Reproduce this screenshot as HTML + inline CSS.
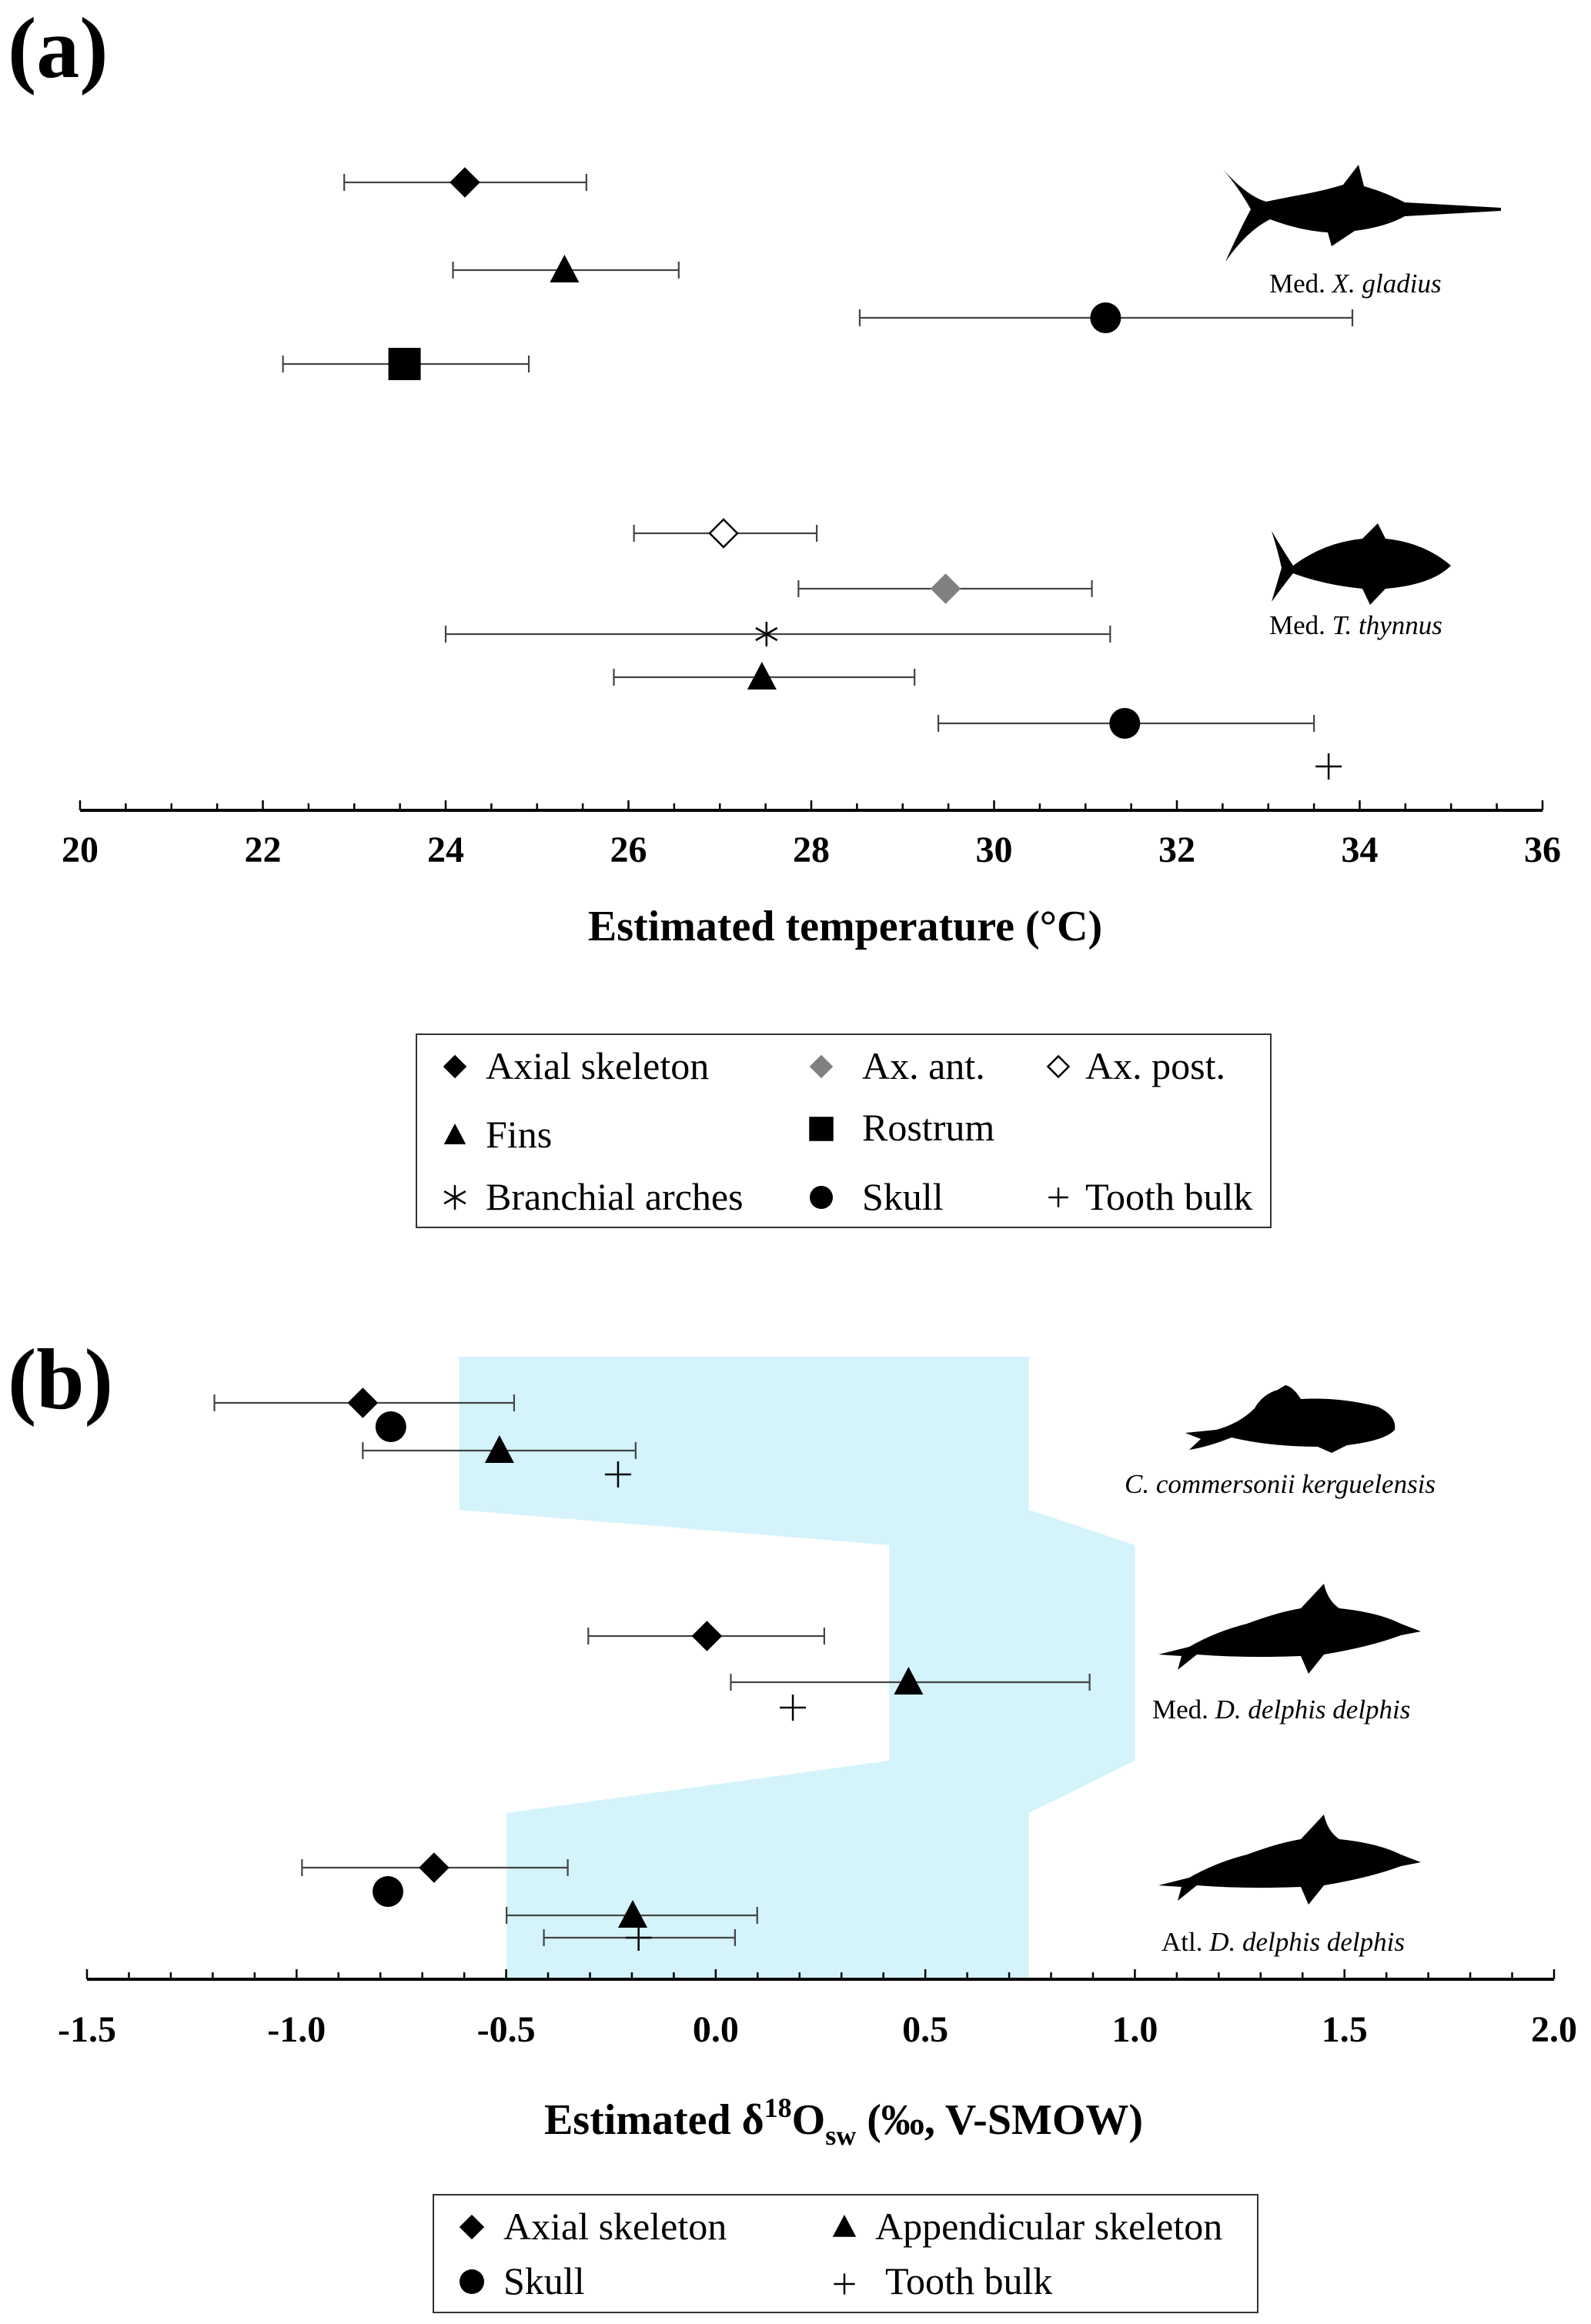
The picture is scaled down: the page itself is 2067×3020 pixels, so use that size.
<!DOCTYPE html>
<html><head><meta charset="utf-8"><style>
html,body{margin:0;padding:0;background:#fff}
svg{display:block}
text{font-family:"Liberation Serif",serif;fill:#000}
.tick{font-family:"Liberation Serif",serif;font-weight:bold;font-size:48px}
.title{font-family:"Liberation Serif",serif;font-weight:bold;font-size:56px}
.leg{font-family:"Liberation Serif",serif;font-size:50px}
.sp{font-family:"Liberation Serif",serif;font-size:35px}
</style></head><body>
<svg id="chart" width="2067" height="3020" viewBox="0 0 2067 3020" xmlns="http://www.w3.org/2000/svg">
<text x="10" y="100" style="font-family:'Liberation Serif',serif;font-weight:bold;font-size:112px">(a)</text>
<text x="10" y="1830" style="font-family:'Liberation Serif',serif;font-weight:bold;font-size:112px">(b)</text>
<g id="bgA"></g><g id="bgB"></g>
<g id="axA"></g><g id="axB"></g>
<g id="marksA"></g><g id="marksB"></g>
<text x="1098" y="1222" text-anchor="middle" class="title">Estimated temperature (°C)</text>
<text x="1096" y="2773" text-anchor="middle" class="title">Estimated δ<tspan dy="-22" font-size="36">18</tspan><tspan dy="22">O</tspan><tspan dy="14" font-size="36">sw</tspan><tspan dy="-14"> (‰, V-SMOW)</tspan></text>
<path d="M1589,220 Q1620,255 1645,262 L1680,255 Q1720,248 1745,240 L1765,214 L1772,242 Q1800,250 1825,263 L1950,270 L1950,274 L1825,281 Q1800,295 1760,300 L1730,320 L1725,302 Q1690,300 1650,285 Q1620,300 1592,340 Q1610,300 1625,272 Q1610,245 1589,220 Z"/>
<path d="M1652,690 Q1670,720 1680,735 Q1720,705 1770,700 L1790,680 L1800,700 Q1850,705 1885,735 Q1860,760 1800,765 L1780,786 L1770,765 Q1720,760 1680,745 Q1668,760 1652,782 Q1660,755 1665,738 Q1660,715 1652,690 Z"/>
<path d="M1540,1862 L1580,1858 Q1610,1850 1630,1830 Q1640,1812 1660,1806 L1670,1800 Q1680,1802 1690,1818 Q1740,1815 1790,1828 Q1815,1840 1812,1858 Q1800,1872 1750,1878 L1730,1888 L1712,1880 Q1650,1880 1600,1868 Q1570,1880 1545,1884 L1560,1870 Z"/>
<path d="M1505,2150 L1545,2140 Q1580,2120 1620,2110 Q1660,2095 1690,2090 L1720,2058 Q1725,2080 1740,2090 Q1790,2095 1820,2110 L1846,2120 L1820,2125 Q1780,2140 1720,2150 L1700,2175 L1690,2152 Q1620,2155 1555,2150 L1530,2170 L1535,2152 Z"/>
<path transform="translate(0,300)" d="M1505,2150 L1545,2140 Q1580,2120 1620,2110 Q1660,2095 1690,2090 L1720,2058 Q1725,2080 1740,2090 Q1790,2095 1820,2110 L1846,2120 L1820,2125 Q1780,2140 1720,2150 L1700,2175 L1690,2152 Q1620,2155 1555,2150 L1530,2170 L1535,2152 Z"/>
<text class="sp" x="1649" y="380">Med. <tspan font-style="italic">X. gladius</tspan></text>
<text class="sp" x="1649" y="824">Med. <tspan font-style="italic">T. thynnus</tspan></text>
<text class="sp" x="1461" y="1940" font-style="italic">C. commersonii kerguelensis</text>
<text class="sp" x="1497" y="2233">Med. <tspan font-style="italic">D. delphis delphis</tspan></text>
<text class="sp" x="1509" y="2535">Atl. <tspan font-style="italic">D. delphis delphis</tspan></text>
<g>
<rect x="541" y="1344" width="1110" height="251" fill="none" stroke="#333" stroke-width="2"/>
<g id="legA"></g>
<text class="leg" x="631" y="1402">Axial skeleton</text>
<text class="leg" x="1120" y="1402">Ax. ant.</text>
<text class="leg" x="1410" y="1402">Ax. post.</text>
<text class="leg" x="631" y="1491">Fins</text>
<text class="leg" x="1120" y="1482">Rostrum</text>
<text class="leg" x="631" y="1572">Branchial arches</text>
<text class="leg" x="1120" y="1572">Skull</text>
<text class="leg" x="1410" y="1572">Tooth bulk</text>
</g>
<g>
<rect x="563" y="2852" width="1071" height="153" fill="none" stroke="#333" stroke-width="2"/>
<g id="legB"></g>
<text class="leg" x="654" y="2910">Axial skeleton</text>
<text class="leg" x="1137" y="2910">Appendicular skeleton</text>
<text class="leg" x="654" y="2981">Skull</text>
<text class="leg" x="1150" y="2981">Tooth bulk</text>
</g>
</svg>
<script>
// Panel (a) data: estimated temperature (°C)
const aCategories = ["Xg axial","Xg fins","Xg skull","Xg rostrum","Tt ax post","Tt ax ant","Tt branchial","Tt fins","Tt skull","Tt tooth"];
const aMarkers = ["diamond","triangle","circle","square","odiamond","gdiamond","star","triangle","circle","plus"];
const aValues = [24.21,25.30,31.22,23.55,27.04,29.47,27.51,27.46,31.43,33.66];
const aLow =    [22.89,24.08,28.53,22.22,26.06,27.86,24.00,25.84,29.39,null];
const aHigh =   [25.54,26.55,33.92,24.91,28.06,31.07,31.27,29.13,33.50,null];
const aTicks = [20,22,24,26,28,30,32,34,36];
// Panel (b) data: estimated d18O sw
const bCategories = ["Cc axial","Cc skull","Cc appendicular","Cc tooth","Med axial","Med appendicular","Med tooth","Atl axial","Atl skull","Atl appendicular","Atl tooth"];
const bMarkers = ["diamond","circle","triangle","plus","diamond","triangle","plus","diamond","circle","triangle","plus"];
const bValues = [-0.842,-0.775,-0.516,-0.233,-0.021,0.460,0.184,-0.672,-0.782,-0.198,-0.184];
const bLow =    [-1.196,null,-0.842,null,-0.304,0.036,null,-0.987,null,-0.499,-0.410];
const bHigh =   [-0.481,null,-0.191,null,0.259,0.892,null,-0.353,null,0.099,0.046];
const bTicks = [-1.5,-1.0,-0.5,0.0,0.5,1.0,1.5,2.0];
const bandLeft = [-0.612,-0.612,0.414,0.414,-0.499,-0.499];
const bandRight = [0.747,0.747,1.0,1.0,0.747,0.747];

// layout
const aRowY = [237,351,413,473,693,765,824,880,940,996];
const bRowY = [1823,1854,1885,1916,2126,2186,2219,2427,2458,2489,2518];
const bandY = [1763,1962,2008,2288,2356,2572];

const NS = "http://www.w3.org/2000/svg";
const xA = v => 104 + (v - 20) * (1900 / 16);
const xB = v => 113 + (v + 1.5) * (1906 / 3.5);

function el(tag, attrs, parent) {
  const e = document.createElementNS(NS, tag);
  for (const k in attrs) e.setAttribute(k, attrs[k]);
  parent.appendChild(e);
  return e;
}
function marker(type, x, y, parent, s) {
  s = s || 1;
  let m;
  if (type === "diamond" || type === "gdiamond" || type === "odiamond") {
    const r = 18 * s;
    m = el("polygon", {points: `${x},${y-r} ${x+r},${y} ${x},${y+r} ${x-r},${y}`,
      fill: type === "diamond" ? "#000" : type === "gdiamond" ? "#808080" : "#fff",
      stroke: type === "gdiamond" ? "#808080" : "#000", "stroke-width": 2.5}, parent);
  } else if (type === "circle") {
    m = el("circle", {cx: x, cy: y, r: 20 * s, fill: "#000"}, parent);
  } else if (type === "square") {
    const r = 21 * s;
    m = el("rect", {x: x - r, y: y - r, width: 2 * r, height: 2 * r, fill: "#000"}, parent);
  } else if (type === "triangle") {
    const r = 20 * s;
    m = el("polygon", {points: `${x},${y-r} ${x+r*0.95},${y+r*0.8} ${x-r*0.95},${y+r*0.8}`, fill: "#000"}, parent);
  } else if (type === "plus") {
    const r = 17 * s;
    m = el("path", {d: `M${x-r},${y}H${x+r}M${x},${y-r}V${y+r}`, stroke: "#000", "stroke-width": 2.5, fill: "none"}, parent);
  } else if (type === "star") {
    const r = 16 * s;
    const c = r * Math.cos(Math.PI / 6), d = r * Math.sin(Math.PI / 6);
    m = el("path", {d: `M${x},${y-r}V${y+r}M${x-c},${y-d}L${x+c},${y+d}M${x-c},${y+d}L${x+c},${y-d}`, stroke: "#000", "stroke-width": 2.5, fill: "none"}, parent);
  }
  return m;
}
function errbar(x1, x2, y, parent) {
  return el("path", {d: `M${x1},${y}H${x2}M${x1},${y-11}V${y+11}M${x2},${y-11}V${y+11}`, stroke: "#444", "stroke-width": 2.2, fill: "none"}, parent);
}
function axis(parent, x0, x1, y, minor, tickFn, ticks, labelY, fmt) {
  el("line", {x1: x0, x2: x1, y1: y, y2: y, stroke: "#000", "stroke-width": 4}, parent);
  minor.forEach(v => {
    const t = el("line", {x1: v.x, x2: v.x, y1: y, y2: y - (v.major ? 13 : 9), stroke: "#000", "stroke-width": 2.5}, parent);
    
    
  });
  ticks.forEach(v => {
    const t = el("text", {x: tickFn(v), y: labelY, "text-anchor": "middle", class: "tick"}, parent);
    t.textContent = fmt(v);
    
    
  });
}
const gA = document.getElementById("axA");


const minA = [];
for (let i = 0; i <= 32; i++) minA.push({x: xA(20 + i * 0.5), major: i % 4 === 0});
axis(gA, xA(20), xA(36), 1053, minA, xA, aTicks, 1120, v => String(v));
const gB = document.getElementById("axB");


const minB = [];
for (let i = 0; i <= 35; i++) minB.push({x: xB(-1.5 + i * 0.1), major: i % 5 === 0});
axis(gB, xB(-1.5), xB(2.0), 2572, minB, xB, bTicks, 2653, v => v.toFixed(1));
const bg = document.getElementById("bgB");
let pts = [];
for (let i = 0; i < bandRight.length; i++) pts.push(xB(bandRight[i]) + "," + bandY[i]);
for (let i = bandLeft.length - 1; i >= 0; i--) pts.push(xB(bandLeft[i]) + "," + bandY[i]);
const band = el("polygon", {points: pts.join(" "), fill: "#d4f3fb"}, bg);


const mA = document.getElementById("marksA");
aValues.forEach((v, i) => {
  if (aLow[i] !== null) {
    const e = errbar(xA(aLow[i]), xA(aHigh[i]), aRowY[i], mA);
    
    
  }
  const m = marker(aMarkers[i], xA(v), aRowY[i], mA);
  
  
});
const mB = document.getElementById("marksB");
bValues.forEach((v, i) => {
  if (bLow[i] !== null) {
    const e = errbar(xB(bLow[i]), xB(bHigh[i]), bRowY[i], mB);
    
    
  }
  const m = marker(bMarkers[i], xB(v), bRowY[i], mB);
  
  
});
const lA = document.getElementById("legA");
[["diamond",591,1386,0.75],["gdiamond",1067,1386,0.75],["odiamond",1375,1386,0.75],["triangle",591,1475,0.75],["square",1067,1467,0.75],["star",591,1556,1],["circle",1067,1556,0.75],["plus",1375,1556,0.75]].forEach(a => {
  const m = marker(a[0], a[1], a[2], lA, a[3]);
  
  
});
const lB = document.getElementById("legB");
[["diamond",613,2894],["triangle",1097,2894],["circle",613,2965],["plus",1097,2968]].forEach(a => {
  const m = marker(a[0], a[1], a[2], lB, 0.8);
  
  
});
</script>
</body></html>
